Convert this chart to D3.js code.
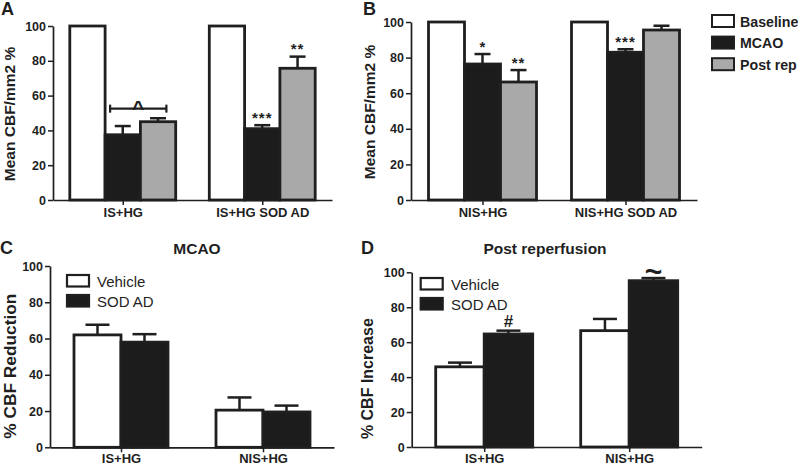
<!DOCTYPE html>
<html><head><meta charset="utf-8">
<script src="https://cdn.jsdelivr.net/npm/d3@7"></script>
<style>
body{margin:0;background:#fff;}
svg{display:block;font-family:"Liberation Sans",Arial,sans-serif;}
</style></head>
<body><svg id="c" width="798" height="466"></svg>
<script>
// ---------- data ----------
const seriesAB = ["Baseline", "MCAO", "Post rep"];
const groupsA = ["IS+HG", "IS+HG SOD AD"];
const baselineA = [100, 100];
const mcaoA = [37.5, 41];
const mcaoErrA = [5, 2];
const postRepA = [45, 75.7];
const postRepErrA = [2, 6.7];

const groupsB = ["NIS+HG", "NIS+HG SOD AD"];
const baselineB = [100, 100];
const mcaoB = [76.4, 83];
const mcaoErrB = [5.6, 1.7];
const postRepB = [66.3, 95.5];
const postRepErrB = [6.7, 2.4];

const seriesCD = ["Vehicle", "SOD AD"];
const groupsCD = ["IS+HG", "NIS+HG"];
const vehicleC = [62, 20.5];
const vehicleErrC = [5.6, 7];
const sodC = [58, 19.5];
const sodErrC = [4.4, 3.5];

const vehicleD = [45.9, 66.6];
const vehicleErrD = [2.4, 6.7];
const sodD = [64.7, 95.2];
const sodErrD = [1.9, 1.5];

const yTicks = [0, 20, 40, 60, 80, 100];

// ---------- drawing ----------
const svg = d3.select("#c");
const INK = "#1f1f1f";
const fills = {Baseline: "#ffffff", MCAO: "#1c1c1c", "Post rep": "#a9a9a9", Vehicle: "#ffffff", "SOD AD": "#1c1c1c"};

function panel(o) {
  const g = svg.append("g");
  const y = d3.scaleLinear().domain([0, 100]).range([o.y0, o.y1]);
  const x = d3.scalePoint().domain(o.groups).range([o.x0, o.x1]).padding(0.5);
  const nS = o.series.length;
  const bars = [];
  o.series.forEach((s, si) => {
    o.groups.forEach((gname, gi) => {
      const left = x(gname) - nS * o.bw / 2 + si * o.bw;
      bars.push({s, si, gi, left, v: o.values[si][gi], e: o.errs[si] ? o.errs[si][gi] : 0});
    });
  });
  bars.filter(b => b.e > 0).forEach(b => {
    const cx = b.left + o.bw / 2;
    g.append("line").attr("x1", cx).attr("x2", cx).attr("y1", y(b.v)).attr("y2", y(b.v + b.e))
      .attr("stroke", INK).attr("stroke-width", 2.5);
    g.append("line").attr("x1", cx - o.cap / 2).attr("x2", cx + o.cap / 2).attr("y1", y(b.v + b.e)).attr("y2", y(b.v + b.e))
      .attr("stroke", INK).attr("stroke-width", 2.5);
  });
  g.selectAll("rect.bar").data(bars).join("rect").attr("class", "bar")
    .attr("x", b => b.left).attr("width", o.bw)
    .attr("y", b => y(b.v)).attr("height", b => y(0) - y(b.v))
    .attr("fill", b => fills[b.s]).attr("stroke", INK).attr("stroke-width", 2.8);

  const ya = g.append("g").attr("transform", `translate(${o.x0},0)`)
    .call(d3.axisLeft(y).tickValues(yTicks).tickSize(5).tickSizeOuter(0).tickPadding(2));
  const xa = g.append("g").attr("transform", `translate(0,${o.y0})`)
    .call(d3.axisBottom(x).tickSize(5).tickSizeOuter(0).tickPadding(o.xPad != null ? o.xPad : 3));
  [ya, xa].forEach(a => {
    a.select(".domain").attr("stroke", INK).attr("stroke-width", 1.7);
    a.selectAll(".tick line").attr("stroke", INK).attr("stroke-width", 1.5);
    a.selectAll("text").attr("fill", INK).attr("font-weight", "bold").attr("font-family", "Liberation Sans, Arial, sans-serif");
  });
  ya.selectAll("text").attr("font-size", 12.5);
  xa.selectAll("text").attr("font-size", 13);

  g.append("text").attr("transform", `translate(${o.titleX},${(o.y0 + o.y1) / 2 + (o.titleDy || 0)}) rotate(-90)`)
    .attr("text-anchor", "middle").attr("font-weight", "bold").attr("font-size", o.titleSize || 15.5).attr("fill", INK)
    .text(o.yTitle);
  g.append("text").attr("x", o.letterX).attr("y", o.letterY).attr("font-weight", "bold").attr("font-size", 18)
    .attr("fill", INK).text(o.letter);
  if (o.title) {
    g.append("text").attr("x", o.titleCX).attr("y", o.titleY).attr("text-anchor", "middle")
      .attr("font-weight", "bold").attr("font-size", 15.5).attr("fill", INK).text(o.title);
  }
  (o.marks || []).forEach(m => {
    const b = bars.find(d => d.si === m.si && d.gi === m.gi);
    g.append("text").attr("x", b.left + o.bw / 2).attr("y", y(b.v + b.e) - (m.dy || 4))
      .attr("text-anchor", "middle").attr("font-weight", "bold").attr("font-size", m.size || 15).attr("fill", INK)
      .attr("letter-spacing", m.ls || 0).text(m.t);
  });
  return {g, x, y, bars};
}

const A = panel({groups: groupsA, series: seriesAB, values: [baselineA, mcaoA, postRepA], errs: [null, mcaoErrA, postRepErrA],
  x0: 53, x1: 332, y0: 200, y1: 26, bw: 35.3, cap: 16, yTitle: "Mean CBF/mm2 %", titleX: 15, titleDy: 1,
  letter: "A", letterX: 1, letterY: 15,
  marks: [{si: 1, gi: 1, t: "***", dy: 2, ls: 1}, {si: 2, gi: 1, t: "**", dy: 3, ls: 1}]});
{
  const m = A.bars.find(d => d.si === 1 && d.gi === 0), p = A.bars.find(d => d.si === 2 && d.gi === 0);
  const xl = m.left + 5, xr = p.left + 26, yy = A.y(52.5);
  A.g.append("line").attr("x1", xl).attr("x2", xr).attr("y1", yy).attr("y2", yy).attr("stroke", INK).attr("stroke-width", 2.2);
  [xl, xr].forEach(xx => A.g.append("line").attr("x1", xx).attr("x2", xx).attr("y1", yy - 4).attr("y2", yy + 4).attr("stroke", INK).attr("stroke-width", 2.2));
  A.g.append("text").attr("x", (xl + xr) / 2).attr("y", yy + 6).attr("text-anchor", "middle").attr("font-weight", "bold")
    .attr("font-size", 21).attr("fill", INK).text("^");
}

const B = panel({groups: groupsB, series: seriesAB, values: [baselineB, mcaoB, postRepB], errs: [null, mcaoErrB, postRepErrB],
  x0: 411, x1: 697, y0: 200, y1: 22, bw: 36, cap: 16, yTitle: "Mean CBF/mm2 %", titleX: 375, titleDy: 1,
  letter: "B", letterX: 363, letterY: 15,
  marks: [{si: 1, gi: 0, t: "*", dy: 2}, {si: 2, gi: 0, t: "**", dy: 2, ls: 1}, {si: 1, gi: 1, t: "***", dy: 2, ls: 1}]});
seriesAB.forEach((s, i) => {
  const yy = 15 + i * 21.6;
  svg.append("rect").attr("x", 712).attr("y", yy).attr("width", 22).attr("height", 12)
    .attr("fill", fills[s]).attr("stroke", INK).attr("stroke-width", 2);
  svg.append("text").attr("x", 740).attr("y", yy + 11.5).attr("font-weight", "bold").attr("font-size", 14.2)
    .attr("fill", INK).text(s);
});

const C = panel({groups: groupsCD, series: seriesCD, values: [vehicleC, sodC], errs: [vehicleErrC, sodErrC],
  x0: 50, x1: 334, y0: 447.3, y1: 266, bw: 47, cap: 24, yTitle: "% CBF Reduction", titleX: 16, titleDy: 9.5, titleSize: 17.3,
  letter: "C", letterX: 0, letterY: 254, title: "MCAO", titleCX: 197, titleY: 254, xPad: 1.5});
const D = panel({groups: groupsCD, series: seriesCD, values: [vehicleD, sodD], errs: [vehicleErrD, sodErrD],
  x0: 411.7, x1: 701.7, y0: 447, y1: 272.3, bw: 48.5, cap: 24, yTitle: "% CBF Increase", titleX: 373, titleDy: 19, titleSize: 16,
  letter: "D", letterX: 361, letterY: 254, title: "Post reperfusion", titleCX: 545, titleY: 254, xPad: 1.5,
  marks: [{si: 1, gi: 0, t: "#", dy: 4, size: 17}, {si: 1, gi: 1, t: "~", dy: -4, size: 30}]});

[[67, 275, 97], [420.7, 278, 451]].forEach(([lx, ly, tx]) => {
  seriesCD.forEach((s, i) => {
    const yy = ly + i * 20;
    svg.append("rect").attr("x", lx).attr("y", yy).attr("width", 22).attr("height", 11.5)
      .attr("fill", fills[s]).attr("stroke", INK).attr("stroke-width", 2.2);
    svg.append("text").attr("x", tx).attr("y", yy + 11.5).attr("font-size", 15)
      .attr("fill", INK).text(s);
  });
});
</script></body></html>
